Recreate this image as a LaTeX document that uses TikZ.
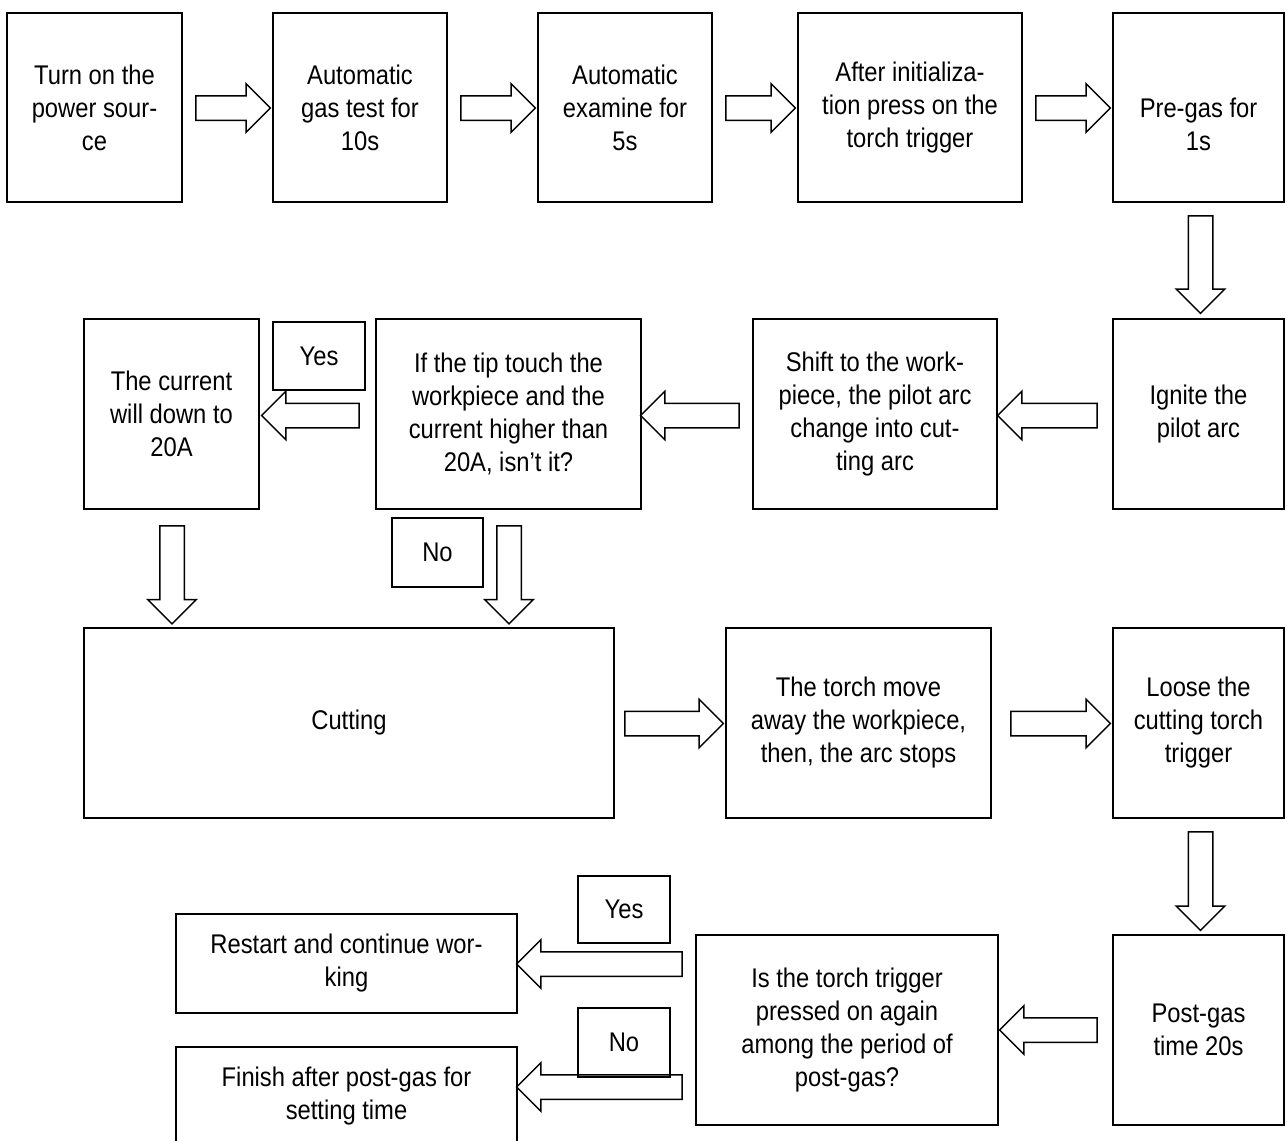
\documentclass[tikz,border=0pt]{standalone}
\usepackage{fontspec}
\setmainfont[FakeStretch=0.88]{Liberation Sans}
\usetikzlibrary{shapes.arrows,calc,positioning}

\tikzset{
  box/.style={draw, line width=1.5pt, align=center, inner sep=0pt, font=\fontsize{27}{33}\selectfont},
  txt/.style={align=center, inner sep=0pt, font=\fontsize{27}{33}\selectfont},
  barrow/.style={draw, line width=1.5pt, single arrow, single arrow head extend=12pt,
    single arrow tip angle=90, single arrow head indent=0pt, inner sep=11.5pt, minimum width=47pt}
}
% hollow block arrow from #1 to #2
\newcommand{\barrow}[2]{\path let \p1=($(#2)-(#1)$), \n1={veclen(\x1,\y1)} in
  (#1) -- (#2) node[barrow, midway, sloped, allow upside down, minimum height=\n1]{};}

\begin{document}
\begin{tikzpicture}[x=1pt, y=-1pt]
\useasboundingbox (0,0) rectangle (1287,1140);

% first row
\node[box, minimum width=175pt, minimum height=189pt] (power) at (94.5,107.5) {Turn on the\\power sour-\\ce};
\node[box, minimum width=174pt, minimum height=189pt] (gastest) at (360,107.5) {Automatic\\gas test for\\10s};
\node[box, minimum width=174pt, minimum height=189pt] (examine) at (625,107.5) {Automatic\\examine for\\5s};
\node[box, minimum width=224pt, minimum height=189pt] (init) at (910,107.5) {After initializa-\\tion press on the\\torch trigger};
\node[box, minimum width=171pt, minimum height=189pt,
  label={[txt, yshift=-17pt]center:Pre-gas for\\1s}] (pregas) at (1198.5,107.5) {};

% second row
\node[box, minimum width=171pt, minimum height=190pt] (ignite) at (1198.5,414) {Ignite the\\pilot arc};
\node[box, minimum width=244pt, minimum height=190pt] (shift) at (875,414) {Shift to the work-\\piece, the pilot arc\\change into cut-\\ting arc};
\node[box, minimum width=265pt, minimum height=190pt] (touch) at (508.5,414) {If the tip touch the\\workpiece and the\\current higher than\\20A, isn't it?};
\node[box, minimum width=175pt, minimum height=190pt] (down) at (171.5,414) {The current\\will down to\\20A};
\node[box, minimum width=92pt, minimum height=68pt] (yesA) at (319,356) {Yes};
\node[box, minimum width=91pt, minimum height=69pt] (noA) at (437.5,552.5) {No};

% third row
\node[box, minimum width=530pt, minimum height=190pt] (cut) at (349,723) {Cutting};
\node[box, minimum width=265pt, minimum height=190pt] (away) at (858.5,723) {The torch move\\away the workpiece,\\then, the arc stops};
\node[box, minimum width=171pt, minimum height=190pt] (loose) at (1198.5,723) {Loose the\\cutting torch\\trigger};

% fourth row
\node[box, minimum width=171pt, minimum height=190pt] (postgas) at (1198.5,1030) {Post-gas\\time 20s};
\node[box, minimum width=302pt, minimum height=190pt] (again) at (847,1030) {Is the torch trigger\\pressed on again\\among the period of\\post-gas?};
\node[box, minimum width=341pt, minimum height=99pt] (restart) at (346.5,963.5) {Restart and continue wor-\\king};
\node[box, minimum width=341pt, minimum height=99pt] (finish) at (346.5,1096.5) {Finish after post-gas for\\setting time};
\node[box, minimum width=92pt, minimum height=67pt] (yesB) at (624,909.5) {Yes};
\node[box, minimum width=92pt, minimum height=69pt] (noB) at (624,1042.5) {No};

% arrows
\barrow{$(power.east)+(7,0.5)$}{$(gastest.west)+(-8,0.5)$}
\barrow{$(gastest.east)+(7,0.5)$}{$(examine.west)+(-8,0.5)$}
\barrow{$(examine.east)+(7,0.5)$}{$(init.west)+(-8,0.5)$}
\barrow{$(init.east)+(7,0.5)$}{$(pregas.west)+(-8,0.5)$}
\barrow{$(pregas.south)+(2,7)$}{$(ignite.north)+(2,-11)$}
\barrow{$(ignite.west)+(-9,1.5)$}{$(shift.east)+(6,1.5)$}
\barrow{$(shift.west)+(-7,1.5)$}{$(touch.east)+(5,1.5)$}
\barrow{$(touch.west)+(-10,1.5)$}{$(down.east)+(8,1.5)$}
\barrow{$(down.south)+(0.5,10)$}{$(cut.north |- down.south)+(-177,108)$}
\barrow{$(touch.south)+(0.5,10)$}{$(touch.south)+(0.5,108)$}
\barrow{$(cut.east)+(4,0.5)$}{$(away.west)+(-8,0.5)$}
\barrow{$(away.east)+(13,0.5)$}{$(loose.west)+(-8,0.5)$}
\barrow{$(loose.south)+(2,7)$}{$(postgas.north)+(2,-10)$}
\barrow{$(postgas.west)+(-9,0)$}{$(again.east)+(7,0)$}
\barrow{$(again.west |- restart.east)+(-7,0.5)$}{$(restart.east)+(5,0.5)$}
\barrow{$(again.west |- finish.east)+(-7,-9.5)$}{$(finish.east)+(5,-9.5)$}
\end{tikzpicture}
\end{document}
